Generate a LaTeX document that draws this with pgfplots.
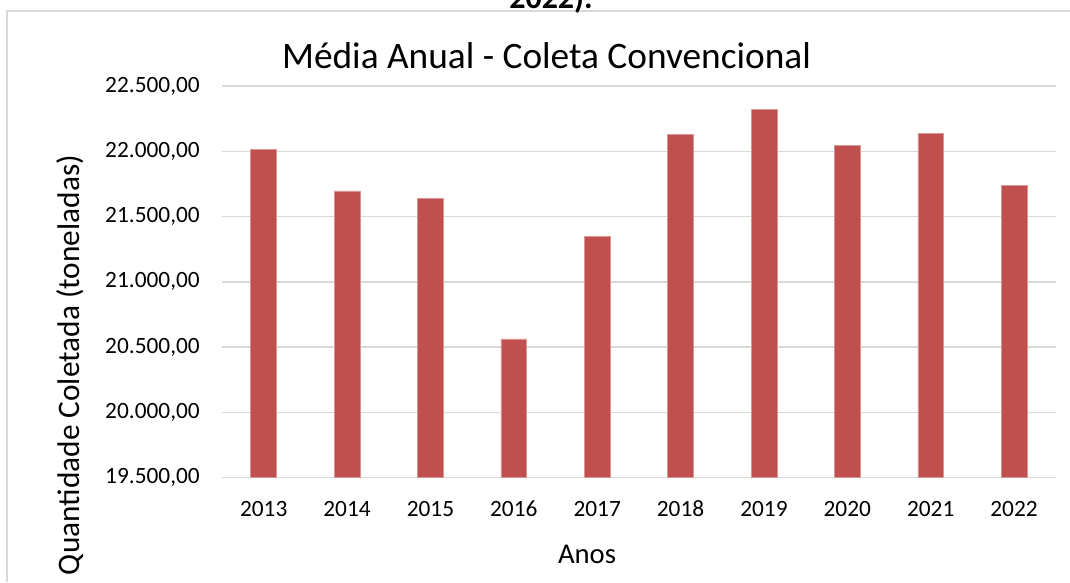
\documentclass[border=0pt]{standalone}
\usepackage{pgfplots}
\pgfplotsset{compat=1.18}
\usepackage{fontspec}
\setmainfont{Carlito}
\definecolor{barred}{HTML}{C0504D}
\definecolor{gridgray}{HTML}{D9D9D9}
\begin{document}
\begin{tikzpicture}
\useasboundingbox (0,0) rectangle (802.5pt,436.5pt);
\fill[white] (0,0) rectangle (802.5pt,436.5pt);
\begin{scope}
\clip (0,0) rectangle (802.5pt,436.5pt);
\draw[gridgray, line width=1pt] (5.25pt,0) -- (5.25pt,428.25pt) -- (810pt,428.25pt);
\node[font=\bfseries\fontsize{24}{28}\selectfont, anchor=base, inner sep=0pt] at (413.25pt,429.75pt) {2022).};
\end{scope}
\begin{axis}[
  at={(166.5pt,78.2pt)}, anchor=south west,
  scale only axis, width=625.3pt, height=293.8pt,
  xmin=-0.5, xmax=9.5, ymin=19500, ymax=22500,
  ytick={19500,20000,20500,21000,21500,22000,22500},
  xtick={0,1,2,3,4,5,6,7,8,9},
  xticklabels={2013,2014,2015,2016,2017,2018,2019,2020,2021,2022},
  scaled y ticks=false,
  axis line style={draw=none}, major tick length=0pt,
  ymajorgrids, grid style={gridgray, line width=1pt},
  yticklabel={\pgfmathprintnumber[fixed,fixed zerofill,precision=2,use comma,1000 sep={.},assume math mode=true]{\tick}},
  yticklabel style={font=\fontsize{17.5}{20}\selectfont, anchor=east, inner sep=0pt, xshift=-16.5pt},
  xticklabel style={font=\fontsize{17.5}{20}\selectfont, anchor=base, inner sep=0pt, yshift=-28.7pt},
]
\addplot[ybar, bar width=0.31, fill=barred, draw=barred!60!white, line width=0.4pt] coordinates {
(0,22015) (1,21696) (2,21640) (3,20564) (4,21347)
(5,22130) (6,22319) (7,22043) (8,22137) (9,21737)
};
\end{axis}
\node[font=\fontsize{28}{33}\selectfont, anchor=base] at (409.9pt,384.75pt) {Média Anual - Coleta Convencional};
\node[font=\fontsize{21.5}{26}\selectfont, anchor=base] at (440.25pt,14pt) {Anos};
\node[font=\fontsize{23.5}{28}\selectfont, rotate=90, anchor=base] at (59.6pt,162.75pt) {Quantidade Coletada (toneladas)};
\end{tikzpicture}
\end{document}
